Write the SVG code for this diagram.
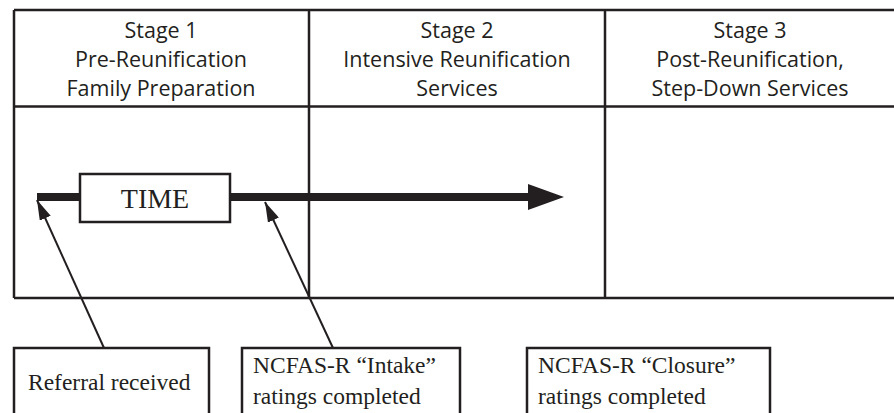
<svg xmlns="http://www.w3.org/2000/svg" width="894" height="413" viewBox="0 0 894 413">
  <style>
    .ln { stroke: #231f20; stroke-width: 2.5; fill: none; }
    .box { stroke: #231f20; stroke-width: 2.5; fill: #ffffff; }
    .hdr { font-family: "Open Sans", "Liberation Sans", sans-serif; font-size: 21.5px; fill: #231f20; text-anchor: middle; }
    .ser { font-family: "Liberation Serif", serif; font-size: 23.5px; fill: #231f20; }
    .conn { stroke: #231f20; stroke-width: 2; fill: none; }
  </style>
  <defs>
    <marker id="ah" viewBox="0 0 20 12" refX="20" refY="6" markerWidth="20" markerHeight="12" markerUnits="userSpaceOnUse" orient="auto">
      <path d="M0,0 L20,6 L0,12 Z" fill="#231f20"/>
    </marker>
  </defs>
  <rect width="894" height="413" fill="#ffffff"/>

  <g id="table">
    <path class="ln" d="M14,10 H894 M14,106.5 H894 M14,298 H894 M14,10 V298 M309,10 V298 M605,10 V298"/>
  </g>

  <g id="stage1">
    <text class="hdr" x="161" y="38">Stage 1</text>
    <text class="hdr" x="161" y="67">Pre-Reunification</text>
    <text class="hdr" x="161" y="96">Family Preparation</text>
  </g>
  <g id="stage2">
    <text class="hdr" x="457" y="38">Stage 2</text>
    <text class="hdr" x="457" y="67">Intensive Reunification</text>
    <text class="hdr" x="457" y="96">Services</text>
  </g>
  <g id="stage3">
    <text class="hdr" x="750" y="38">Stage 3</text>
    <text class="hdr" x="750" y="67">Post-Reunification,</text>
    <text class="hdr" x="750" y="96">Step-Down Services</text>
  </g>

  <g id="timeline">
    <line x1="37" y1="197" x2="530" y2="197" stroke="#231f20" stroke-width="8"/>
    <polygon points="528,184 564,197 528,210" fill="#231f20"/>
  </g>

  <g id="time">
    <rect class="box" x="80" y="174" width="150" height="48"/>
    <text class="ser" x="155" y="208" text-anchor="middle" style="font-size:28px">TIME</text>
  </g>

  <g id="connectors">
    <line class="conn" x1="104" y1="348" x2="37" y2="200" marker-end="url(#ah)"/>
    <line class="conn" x1="333" y1="348" x2="265" y2="202" marker-end="url(#ah)"/>
  </g>

  <g id="referral">
    <rect class="box" x="14" y="348" width="195" height="80"/>
    <text class="ser" x="28" y="390">Referral received</text>
  </g>
  <g id="intake">
    <rect class="box" x="242" y="348" width="218" height="80"/>
    <text class="ser" x="253" y="373">NCFAS-R “Intake”</text>
    <text class="ser" x="253" y="404">ratings completed</text>
  </g>
  <g id="closure">
    <rect class="box" x="527" y="348" width="243" height="80"/>
    <text class="ser" x="538" y="373">NCFAS-R “Closure”</text>
    <text class="ser" x="538" y="404">ratings completed</text>
  </g>
</svg>
